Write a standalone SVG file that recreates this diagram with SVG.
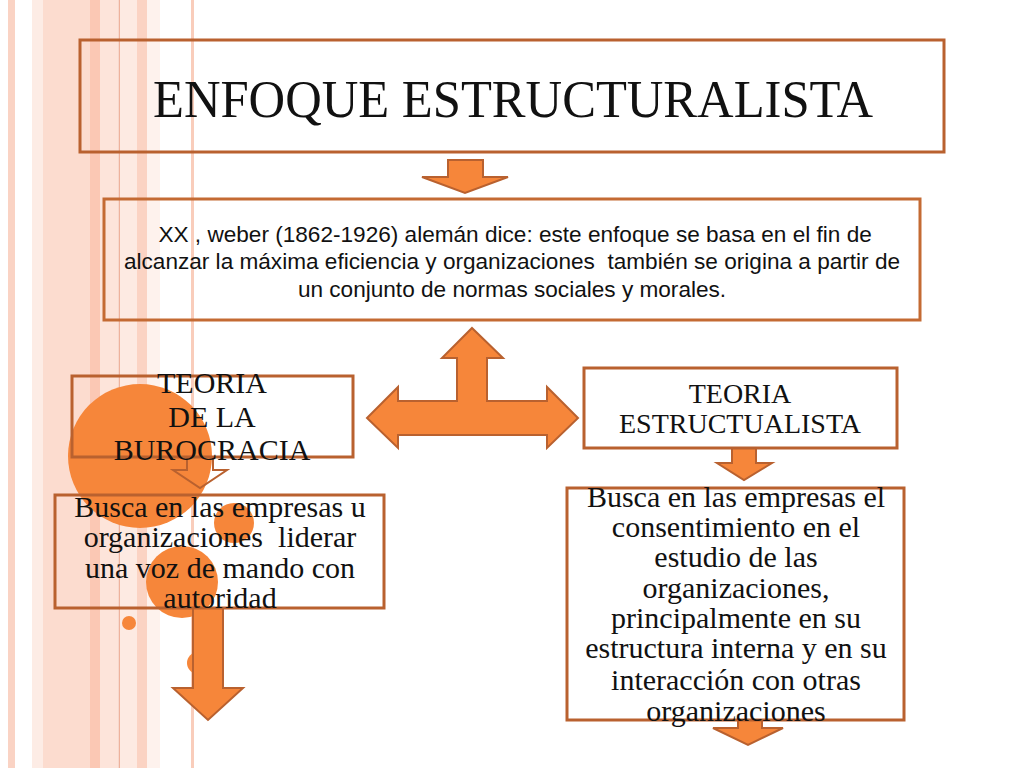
<svg xmlns="http://www.w3.org/2000/svg" width="1024" height="768" viewBox="0 0 1024 768">
<style>
.box{fill:none;stroke:#b9612f;stroke-width:3}
.arr{fill:#f6863a;stroke:#b9612f;stroke-width:2;stroke-linejoin:miter}
.arro{fill:none;stroke:#b9612f;stroke-width:2}
.dot{fill:#f6863a}
.serif{font-family:"Liberation Serif","Times New Roman",serif;fill:#111;text-anchor:middle}
.sans{font-family:"Liberation Sans",Arial,sans-serif;font-size:22.6px;fill:#111;text-anchor:middle;white-space:pre}
</style>
<rect width="1024" height="768" fill="#ffffff"/>
<g id="background">
<rect x="8" y="0" width="7" height="768" fill="#fad3c4"/>
<rect x="32" y="0" width="11" height="768" fill="#fdece5"/>
<rect x="43" y="0" width="47" height="768" fill="#fcdccf"/>
<rect x="90" y="0" width="10" height="768" fill="#fbc8b4"/>
<rect x="100" y="0" width="18" height="768" fill="#fde4da"/>
<rect x="118.5" y="0" width="1.5" height="768" fill="#eeb29c"/>
<rect x="120" y="0" width="17" height="768" fill="#fdeae2"/>
<rect x="137" y="0" width="10" height="768" fill="#fbd3c3"/>
<rect x="147" y="0" width="13" height="768" fill="#fef2ed"/>
<rect x="191" y="0" width="3" height="768" fill="#f9cdbb"/>
</g>
<g id="circles">
<circle class="dot" cx="140" cy="456" r="72"/>
<circle class="dot" cx="234" cy="523" r="20"/>
<circle class="dot" cx="182" cy="582" r="36"/>
<circle class="dot" cx="129" cy="623" r="7"/>
<circle class="dot" cx="198" cy="663" r="11"/>
</g>
<g id="connectors">
<polygon class="arr" points="448,160 483,160 483,177 508,177 465,193 422,177 448,177"/>
<polygon class="arr" points="472,328 503,358 487,358 487,401 547,401 547,387 578,418 547,448 547,435 398,435 398,448 367,418 398,387 398,401 457,401 457,358 442,358"/>
<polygon class="arro" points="187,457 213,457 213,470 227,470 200,488 173,470 187,470"/>
<polygon class="arr" points="193,608 223,608 223,688 243,688 208,720 173,688 193,688"/>
<polygon class="arr" points="732,448 756,448 756,463 772,463 744,480 717,463 732,463"/>
<polygon class="arr" points="738,720 762,720 762,728 783,728 748,745 713,728 738,728"/>
</g>
<g id="title">
<rect class="box" x="80" y="40" width="864" height="112"/>
<text class="serif" x="513" y="117" font-size="52" textLength="720" lengthAdjust="spacingAndGlyphs">ENFOQUE ESTRUCTURALISTA</text>
</g>
<g id="weber">
<rect class="box" x="104" y="199" width="816" height="121" stroke-width="2.5" style="stroke:#c46a33"/>
<text class="sans" x="512" y="242"> XX , weber (1862-1926) alemán dice: este enfoque se basa en el fin de</text>
<text class="sans" x="512" y="269">alcanzar la máxima eficiencia y organizaciones  también se origina a partir de</text>
<text class="sans" x="512" y="297">un conjunto de normas sociales y morales.</text>
</g>
<g id="burocracia">
<rect class="box" x="72" y="376" width="281" height="81"/>
<text class="serif" font-size="30"><tspan x="212" y="393">TEORIA</tspan><tspan x="212" y="427">DE LA</tspan><tspan x="212" y="460">BUROCRACIA</tspan></text>
</g>
<g id="burocracia-desc">
<rect class="box" x="55" y="495" width="329" height="113"/>
<text class="serif" font-size="30" style="white-space:pre"><tspan x="220" y="517">Busca en las empresas u</tspan><tspan x="220" y="547">organizaciones  liderar</tspan><tspan x="220" y="578">una voz de mando con</tspan><tspan x="220" y="608">autoridad</tspan></text>
</g>
<g id="estructualista">
<rect class="box" x="584" y="368" width="313" height="80"/>
<text class="serif" font-size="28"><tspan x="740" y="403">TEORIA</tspan><tspan x="740" y="433">ESTRUCTUALISTA</tspan></text>
</g>
<g id="estructualista-desc">
<rect class="box" x="567" y="488" width="337" height="232"/>
<text class="serif" font-size="30"><tspan x="736" y="507">Busca en las empresas el</tspan><tspan x="736" y="537">consentimiento en el</tspan><tspan x="736" y="567">estudio de las</tspan><tspan x="736" y="598">organizaciones,</tspan><tspan x="736" y="628">principalmente en su</tspan><tspan x="736" y="658">estructura interna y en su</tspan><tspan x="736" y="690">interacción con otras</tspan><tspan x="736" y="721">organizaciones</tspan></text>
</g>
</svg>
